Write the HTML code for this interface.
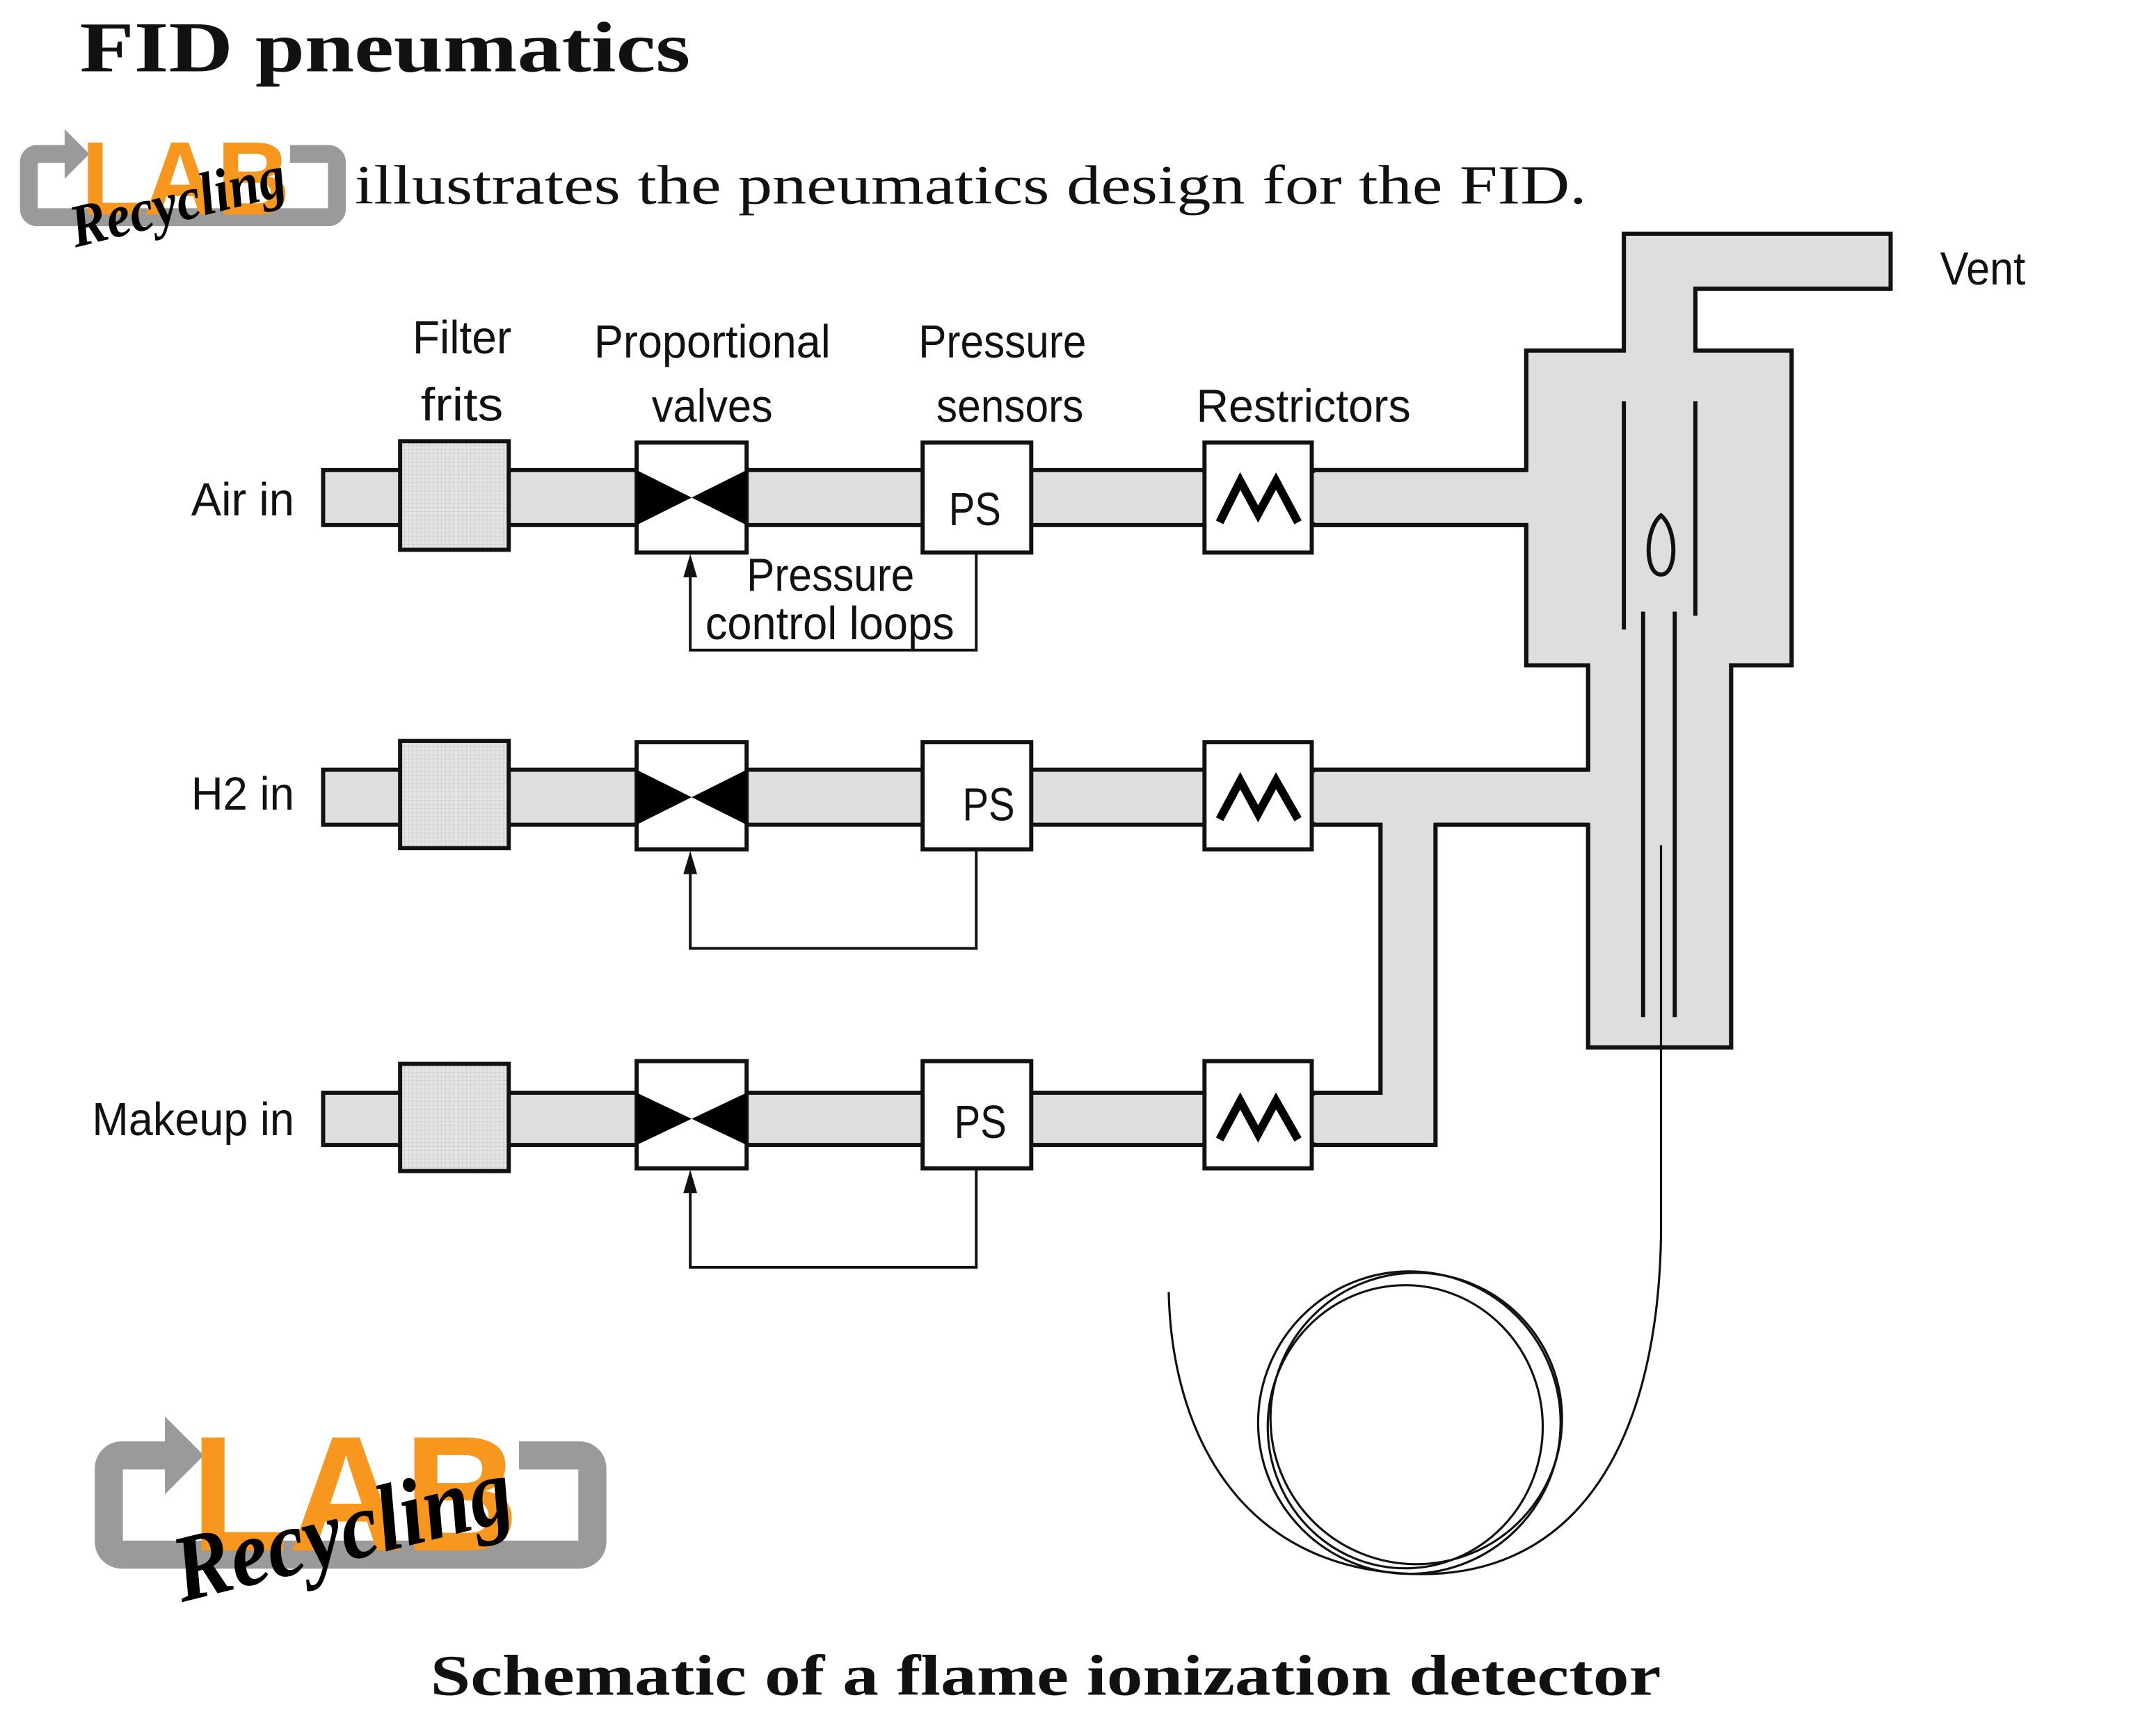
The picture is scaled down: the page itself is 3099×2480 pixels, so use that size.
<!DOCTYPE html>
<html><head><meta charset="utf-8"><style>
html,body{margin:0;padding:0;background:#fff;}
svg{display:block;}
.lbl{font-family:"Liberation Sans Narrow","Liberation Sans",sans-serif;font-size:34px;fill:#111;}
</style></head><body>
<svg width="3099" height="2480" viewBox="0 0 1568 1255" preserveAspectRatio="none" xmlns="http://www.w3.org/2000/svg">
<defs>
<pattern id="grid" width="3" height="3" patternUnits="userSpaceOnUse">
<rect width="3" height="3" fill="#e4e4e4"/><path d="M0 0H3M0 0V3" stroke="#c8c8c8" stroke-width="0.6"/>
</pattern>
<g id="logo">
<path d="M40 12 H8 a6 6 0 0 0 -6 6 V52 a6 6 0 0 0 6 6 H220 a6 6 0 0 0 6 -6 V18 a6 6 0 0 0 -6 -6 H192" fill="none" stroke="#9a9a9a" stroke-width="13"/>
<polygon points="28,-6 46,12 28,30" fill="#9a9a9a"/>
<text x="40" y="56" font-family="Liberation Sans" font-weight="bold" font-size="76" fill="#f7971e" textLength="152" lengthAdjust="spacingAndGlyphs">LAB</text>
<text x="36" y="80" font-family="Liberation Serif" font-style="italic" font-weight="bold" font-size="44" fill="#000" transform="rotate(-14 36 80)" textLength="160" lengthAdjust="spacingAndGlyphs">Recycling</text>
</g>
</defs>
<rect width="1568" height="1255" fill="#fff"/>
<text x="58" y="52" font-family="Liberation Serif" font-weight="bold" font-size="52" fill="#111" textLength="444" lengthAdjust="spacingAndGlyphs">FID pneumatics</text>
<use href="#logo" transform="translate(19,100)"/>
<text x="258" y="148" font-family="Liberation Serif" font-size="40" fill="#111" textLength="896" lengthAdjust="spacingAndGlyphs">illustrates the pneumatics design for the FID.</text>

<g stroke="#111" stroke-width="3" fill="#dedede">
<path d="M1181 255 V170 H1375 V210 H1233 V255 H1303 V484 H1259 V762 H1155 V600 H1044 V833 H954 V795 H1004 V600 H954 V560 H1155 V484 H1110 V382 H954 V342 H1110 V255 Z"/>
<rect x="235" y="342" width="720" height="40"/>
<rect x="235" y="560" width="720" height="40"/>
<rect x="235" y="795" width="720" height="38"/>
</g>
<g fill="#dedede">
<rect x="940" y="344" width="175" height="36"/>
<rect x="940" y="562" width="220" height="36"/>
<rect x="1006" y="590" width="36" height="220"/>
<rect x="940" y="797" width="102" height="34"/>
<rect x="1112" y="257" width="189" height="225"/>
<rect x="1157" y="470" width="100" height="290"/>
<rect x="1183" y="172" width="48" height="90"/>
<rect x="1183" y="172" width="190" height="36"/>
</g>
<g stroke="#111" stroke-width="3" fill="none">
<path d="M1110 342 H954"/><path d="M1110 382 H954"/>
<path d="M954 560 H1155"/><path d="M954 600 H1004 V795 H954"/><path d="M1044 600 H1155"/><path d="M1044 600 V833 H954"/>
<path d="M1181 255 V170 H1375 V210 H1233 V255"/>
<path d="M1181 255 H1110 V342 M1110 382 V484 H1155 V560 M1155 600 V762 H1259 V484 H1303 V255 H1233"/>
</g>
<g stroke="#111" stroke-width="3" fill="none">
<line x1="1181" y1="292" x2="1181" y2="458"/>
<line x1="1233" y1="292" x2="1233" y2="448"/>
<line x1="1195" y1="445" x2="1195" y2="740"/>
<line x1="1218" y1="445" x2="1218" y2="740"/>
<path d="M1208 375 C1196 385 1196 418 1208 418 C1220 418 1220 385 1208 375 Z"/>
</g>
<g stroke="#111" stroke-width="1.6" fill="none">
<line x1="1208" y1="615" x2="1208" y2="900"/>
<path d="M1208 900 C1205 1060 1140 1150 1025 1145 C900 1140 852 1040 850 940"/>
<ellipse cx="1025" cy="1035" rx="110" ry="110"/>
<ellipse cx="1030" cy="1032" rx="106" ry="106"/>
<ellipse cx="1022" cy="1038" rx="100" ry="103"/>
</g>
<g stroke="#111" stroke-width="3">
<rect x="291" y="321" width="79" height="79" fill="url(#grid)"/>
<rect x="291" y="539" width="79" height="78" fill="url(#grid)"/>
<rect x="291" y="774" width="79" height="78" fill="url(#grid)"/>
<rect x="463" y="322" width="80" height="80" fill="#fff"/>
<rect x="463" y="540" width="80" height="78" fill="#fff"/>
<rect x="463" y="772" width="80" height="78" fill="#fff"/>
<rect x="671" y="322" width="79" height="80" fill="#fff"/>
<rect x="671" y="540" width="79" height="78" fill="#fff"/>
<rect x="671" y="772" width="79" height="78" fill="#fff"/>
<rect x="876" y="322" width="78" height="80" fill="#fff"/>
<rect x="876" y="540" width="78" height="78" fill="#fff"/>
<rect x="876" y="772" width="78" height="78" fill="#fff"/>
</g>
<g fill="#000">
<polygon points="463,342 503,362 463,382"/><polygon points="543,342 503,362 543,382"/>
<polygon points="463,560 503,580 463,600"/><polygon points="543,560 503,580 543,600"/>
<polygon points="463,795 503,814 463,833"/><polygon points="543,795 503,814 543,833"/>
</g>
<g stroke="#000" stroke-width="6" fill="none">
<path d="M887 380 L902 350 L915 374 L928 350 L944 380"/>
<path d="M887 596 L902 568 L915 592 L928 568 L944 596"/>
<path d="M887 829 L902 801 L915 825 L928 801 L944 829"/>
</g>
<g stroke="#111" stroke-width="2" fill="none">
<path d="M502 418 V473 H710 V402"/>
<path d="M502 634 V690 H710 V618"/>
<path d="M502 866 V922 H710 V850"/>
</g>
<g fill="#111">
<polygon points="502,403 497,420 507,420"/>
<polygon points="502,619 497,636 507,636"/>
<polygon points="502,851 497,868 507,868"/>
</g>
<text class="lbl" x="300" y="257" textLength="72" lengthAdjust="spacingAndGlyphs">Filter</text>
<text class="lbl" x="306" y="306" textLength="60" lengthAdjust="spacingAndGlyphs">frits</text>
<text class="lbl" x="432" y="260" textLength="172" lengthAdjust="spacingAndGlyphs">Proportional</text>
<text class="lbl" x="474" y="307" textLength="88" lengthAdjust="spacingAndGlyphs">valves</text>
<text class="lbl" x="668" y="260" textLength="122" lengthAdjust="spacingAndGlyphs">Pressure</text>
<text class="lbl" x="681" y="307" textLength="107" lengthAdjust="spacingAndGlyphs">sensors</text>
<text class="lbl" x="870" y="307" textLength="156" lengthAdjust="spacingAndGlyphs">Restrictors</text>
<text class="lbl" x="1411" y="207" textLength="62" lengthAdjust="spacingAndGlyphs">Vent</text>
<text class="lbl" x="139" y="375" textLength="75" lengthAdjust="spacingAndGlyphs">Air in</text>
<text class="lbl" x="139" y="589" textLength="75" lengthAdjust="spacingAndGlyphs">H2 in</text>
<text class="lbl" x="67" y="826" textLength="147" lengthAdjust="spacingAndGlyphs">Makeup in</text>
<text class="lbl" x="690" y="382" textLength="38" lengthAdjust="spacingAndGlyphs">PS</text>
<text class="lbl" x="700" y="597" textLength="38" lengthAdjust="spacingAndGlyphs">PS</text>
<text class="lbl" x="694" y="828" textLength="38" lengthAdjust="spacingAndGlyphs">PS</text>
<text class="lbl" x="543" y="430" textLength="122" lengthAdjust="spacingAndGlyphs">Pressure</text>
<text class="lbl" x="513" y="465" textLength="181" lengthAdjust="spacingAndGlyphs">control loops</text>

<use href="#logo" transform="translate(76,1040) scale(1.57)"/>
<text x="313" y="1233" font-family="Liberation Serif" font-weight="bold" font-size="42" fill="#111" textLength="895" lengthAdjust="spacingAndGlyphs">Schematic of a flame ionization detector</text>
</svg>
</body></html>
